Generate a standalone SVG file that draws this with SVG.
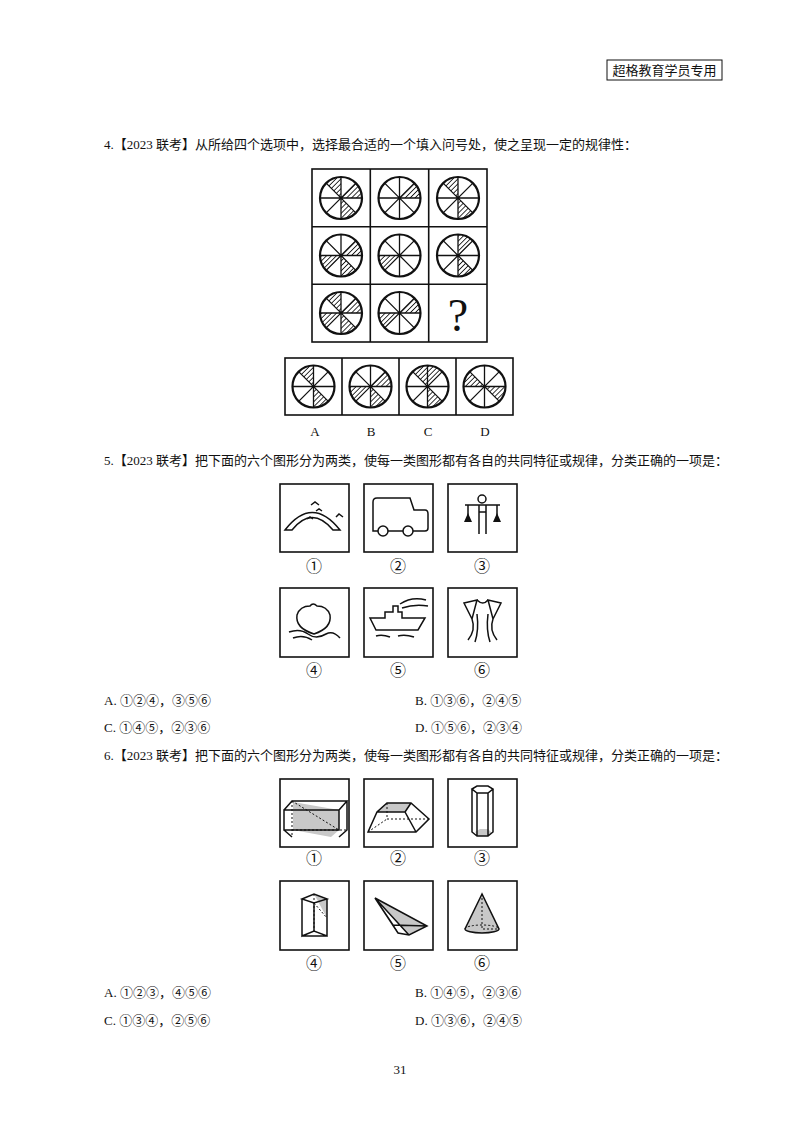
<svg xmlns="http://www.w3.org/2000/svg" width="800" height="1132" viewBox="0 0 800 1132">
<style>
text{font-family:"Liberation Serif","Noto Sans CJK SC",serif;fill:#111}
.q{font-size:13px}
.lb{font-size:16px;text-anchor:middle}
.box{fill:#fff;stroke:#111;stroke-width:1.6}
.ln{fill:none;stroke:#111;stroke-width:1.5}
.dash{fill:none;stroke:#111;stroke-width:1;stroke-dasharray:2 2}
.gr{fill:#c8c8c8}
</style>
<defs>
<pattern id="h" width="3.5" height="3.5" patternUnits="userSpaceOnUse" patternTransform="rotate(45)"><rect width="3.5" height="3.5" fill="#fff"/><line x1="0" y1="0" x2="0" y2="3.5" stroke="#111" stroke-width="1.7"/></pattern>
<path id="s0" d="M0,0 L0,-21 A21,21 0 0 1 14.85,-14.85Z" fill="url(#h)"/>
<path id="s1" d="M0,0 L14.85,-14.85 A21,21 0 0 1 21,0Z" fill="url(#h)"/>
<path id="s2" d="M0,0 L21,0 A21,21 0 0 1 14.85,14.85Z" fill="url(#h)"/>
<path id="s3" d="M0,0 L14.85,14.85 A21,21 0 0 1 0,21Z" fill="url(#h)"/>
<path id="s5" d="M0,0 L-14.85,14.85 A21,21 0 0 1 -21,0Z" fill="url(#h)"/>
<path id="s6" d="M0,0 L-21,0 A21,21 0 0 1 -14.85,-14.85Z" fill="url(#h)"/>
<path id="s7" d="M0,0 L-14.85,-14.85 A21,21 0 0 1 0,-21Z" fill="url(#h)"/>
<g id="w"><circle r="21" fill="none" stroke="#111" stroke-width="2.2"/><path d="M0,-21V21M-21,0H21M-14.85,-14.85L14.85,14.85M14.85,-14.85L-14.85,14.85" stroke="#111" stroke-width="1.3"/></g>
</defs>
<rect width="800" height="1132" fill="#fff"/>
<g id="header"><rect x="607" y="60" width="115" height="20" fill="none" stroke="#111" stroke-width="1"/><text x="664.5" y="75" class="q" text-anchor="middle">超格教育学员专用</text></g>

<text x="104" y="149" class="q">4.【2023 联考】从所给四个选项中，选择最合适的一个填入问号处，使之呈现一定的规律性：</text>
<g id="grid">
<rect x="312" y="169" width="175" height="173" class="box"/>
<path d="M370.3,169V342M428.7,169V342M312,226.7H487M312,284.3H487" stroke="#111" stroke-width="1.6"/>
<g transform="translate(341,198)"><use href="#s7"/><use href="#s1"/><use href="#s3"/><use href="#w"/></g>
<g transform="translate(399.5,198)"><use href="#s1"/><use href="#w"/></g>
<g transform="translate(458,198)"><use href="#s7"/><use href="#s3"/><use href="#w"/></g>
<g transform="translate(341,255.5)"><use href="#s1"/><use href="#s5"/><use href="#s3"/><use href="#w"/></g>
<g transform="translate(399.5,255.5)"><use href="#s5"/><use href="#w"/></g>
<g transform="translate(458,255.5)"><use href="#s0"/><use href="#s3"/><use href="#w"/></g>
<g transform="translate(341,313)"><use href="#s7"/><use href="#s1"/><use href="#s5"/><use href="#s3"/><use href="#w"/></g>
<g transform="translate(399.5,313)"><use href="#s1"/><use href="#s5"/><use href="#w"/></g>
<text x="458" y="331" font-size="46" text-anchor="middle" style="font-family:'Liberation Serif',serif">?</text>
</g>
<g id="options4">
<rect x="285" y="358" width="228" height="57" class="box"/>
<path d="M342,358V415M399,358V415M456,358V415" stroke="#111" stroke-width="1.6"/>
<g transform="translate(313.5,386.5)"><use href="#s7"/><use href="#s3"/><use href="#w"/></g>
<g transform="translate(370.5,386.5)"><use href="#s1"/><use href="#s5"/><use href="#s3"/><use href="#w"/></g>
<g transform="translate(427.5,386.5)"><use href="#s7"/><use href="#s0"/><use href="#s3"/><use href="#w"/></g>
<g transform="translate(484.5,386.5)"><use href="#s6"/><use href="#s2"/><use href="#w"/></g>
<text x="315" y="436" class="q" text-anchor="middle">A</text><text x="371" y="436" class="q" text-anchor="middle">B</text><text x="428" y="436" class="q" text-anchor="middle">C</text><text x="485" y="436" class="q" text-anchor="middle">D</text>
</g>

<text x="104" y="465" class="q">5.【2023 联考】把下面的六个图形分为两类，使每一类图形都有各自的共同特征或规律，分类正确的一项是：</text>
<g id="q5fig1"><rect x="280" y="484" width="69" height="68" class="box"/>
<path d="M285,530 Q312,495 340,530 H333 Q312,505 292,530Z" class="ln"/>
<path d="M311,505 l4,-3 l4,3 M316,511 l3,-2 l3,2 M336,517 l3,-3 l4,3 M307,519 l3,-2 l3,2" class="ln" stroke-width="1.2"/>
<text x="314" y="572" class="lb">①</text></g>
<g id="q5fig2"><rect x="364" y="484" width="69" height="68" class="box"/>
<path d="M373,502 Q373,498 377,498 H410 L414,510 H425 Q428,510 428,514 V528 Q428,531 425,531 H373Z" class="ln"/>
<circle cx="383" cy="531" r="5" fill="#fff" stroke="#111" stroke-width="1.5"/><circle cx="408" cy="531" r="5" fill="#fff" stroke="#111" stroke-width="1.5"/>
<text x="398" y="572" class="lb">②</text></g>
<g id="q5fig3"><rect x="448" y="484" width="69" height="68" class="box"/>
<circle cx="482" cy="499" r="4" class="ln"/><path d="M465,505H500M468,505V517M497,505V517M479,505V534M486,505V534M479,512H486" class="ln"/>
<path d="M468,513l-4,9h8Z M497,513l-4,9h8Z" fill="#111"/>
<text x="482" y="572" class="lb">③</text></g>
<g id="q5fig4"><rect x="280" y="588" width="69" height="69" class="box"/>
<path d="M310,606 Q300,606 297,615 Q295,628 314,634 Q332,628 330,615 Q327,606 317,606 Q313,602 310,606Z" class="ln"/>
<path d="M289,632 Q300,628 308,634 Q316,640 326,634 Q333,630 340,638 M293,638 Q303,634 312,640" class="ln"/>
<text x="314" y="676" class="lb">④</text></g>
<g id="q5fig5"><rect x="364" y="588" width="69" height="69" class="box"/>
<path d="M370,618H385V612H393V606H398V612H402V618H412L425,618 L418,630 H376Z" class="ln"/>
<path d="M400,604 Q412,596 426,600 M402,608 Q414,604 428,606 M376,636 Q382,634 390,637 M398,636 Q405,634 414,637" class="ln" stroke-width="1.2"/>
<text x="398" y="676" class="lb">⑤</text></g>
<g id="q5fig6"><rect x="448" y="588" width="69" height="69" class="box"/>
<path d="M464,603 L477,600 L472,619 Z M501,603 L488,600 L493,619Z M477,600 Q483,606 488,600 M472,619 Q476,630 468,640 M493,619 Q489,630 497,640 M477,614 Q479,630 475,642 M488,614 Q486,630 490,642" class="ln"/>
<text x="482" y="676" class="lb">⑥</text></g>

<text x="104" y="705" class="q">A. ①②④，③⑤⑥</text><text x="415" y="705" class="q">B. ①③⑥，②④⑤</text>
<text x="104" y="732" class="q">C. ①④⑤，②③⑥</text><text x="415" y="732" class="q">D. ①⑤⑥，②③④</text>

<text x="104" y="760" class="q">6.【2023 联考】把下面的六个图形分为两类，使每一类图形都有各自的共同特征或规律，分类正确的一项是：</text>
<g id="q6fig1"><rect x="280" y="779" width="69" height="68" class="box"/>
<path d="M293,802 L339,810 V830 L331,837 L293,830Z" class="gr"/>
<path d="M284,810 H339 V830 H284Z M284,810 L292,801 H347 L339,810 M347,801 V830 L339,837 M284,830 L292,837" class="ln" stroke-width="1.2"/>
<path d="M292,830 H347 M292,801 V837 M292,801 L339,830" class="dash"/>
<text x="314" y="864" class="lb">①</text></g>
<g id="q6fig2"><rect x="364" y="779" width="69" height="68" class="box"/>
<path d="M377,812 L387,803 H411 L405,812Z" class="gr"/>
<path d="M368,832 L377,812 L387,803 H411 L429,819 L416,832Z M377,812 H405 L416,832 M405,812 L411,803" class="ln" stroke-width="1.2"/>
<path d="M387,803 V819 H429 M368,832 L387,819" class="dash"/>
<text x="398" y="864" class="lb">②</text></g>
<g id="q6fig3"><rect x="448" y="779" width="69" height="68" class="box"/>
<path d="M475,832 L480,829 H488 L492,833 L487,836 H478Z" class="gr"/>
<path d="M472,789 L477,786 H488 L493,789 L488,793 H477Z M472,789 V832 L477,836 H488 L493,832 V789 M477,793 V836 M488,793 V836" class="ln" stroke-width="1.2"/>
<text x="482" y="864" class="lb">③</text></g>
<g id="q6fig4"><rect x="280" y="881" width="69" height="69" class="box"/>
<path d="M314,894 L327,900 V918 Z" class="gr"/>
<path d="M302,899 L314,894 L327,899 L314,903Z M302,899 V936 L314,931 L327,936 V899 M302,936 H327 M314,903 V931" class="ln" stroke-width="1.2"/>
<path d="M314,894 V931 M314,903 L327,918" class="dash"/>
<text x="314" y="969" class="lb">④</text></g>
<g id="q6fig5"><rect x="364" y="881" width="69" height="69" class="box"/>
<path d="M375,898 L427,926 L409,935 Z" class="gr"/>
<path d="M375,898 L427,926 L409,935 L398,933Z M375,898 L409,935 M375,898 L393,925 L427,926" class="ln" stroke-width="1.2"/>
<path d="M393,925 L398,933" class="dash"/>
<text x="398" y="969" class="lb">⑤</text></g>
<g id="q6fig6"><rect x="448" y="881" width="69" height="69" class="box"/>
<path d="M482,894 L465,929 A17,4 0 0 0 499,929Z" class="gr"/>
<path d="M482,894 L465,929 A17,4 0 0 0 499,929 Z" class="ln" stroke-width="1.2"/>
<path d="M465,929 A17,4 0 0 1 499,929 M482,894 V929 H499" class="dash"/>
<text x="482" y="969" class="lb">⑥</text></g>

<text x="104" y="997" class="q">A. ①②③，④⑤⑥</text><text x="415" y="997" class="q">B. ①④⑤，②③⑥</text>
<text x="104" y="1025" class="q">C. ①③④，②⑤⑥</text><text x="415" y="1025" class="q">D. ①③⑥，②④⑤</text>
<text x="400" y="1074" class="q" text-anchor="middle">31</text>
</svg>
